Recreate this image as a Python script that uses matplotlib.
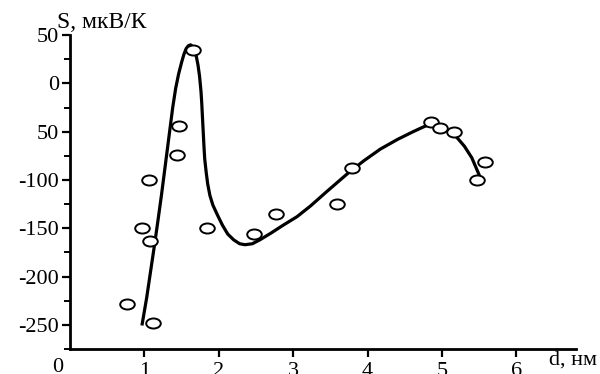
import numpy as np
import matplotlib.pyplot as plt
from matplotlib.path import Path
from matplotlib.transforms import Affine2D

# Экспериментальные точки
d_exp = [0.77, 0.97, 1.08, 1.06, 1.12, 1.44, 1.46, 1.65, 1.84, 2.47, 2.77,
         3.59, 3.79, 4.85, 4.97, 5.16, 5.47, 5.58]
s_exp = [-228, -150, -163, -100, -248, -74, -44, 35, -150, -156, -135,
         -125, -88, -40, -46, -50, -100, -81]

# Кривая
d_fit = [0.97, 1.03, 1.08, 1.13, 1.18, 1.23, 1.28, 1.33, 1.38, 1.42, 1.46,
         1.50, 1.53, 1.56, 1.59, 1.62, 1.65, 1.68, 1.70, 1.72, 1.74, 1.76,
         1.77, 1.78, 1.79, 1.80, 1.81, 1.83, 1.85, 1.88, 1.92, 1.98, 2.05,
         2.12, 2.20, 2.28, 2.35, 2.45, 2.55, 2.70, 2.86, 3.05, 3.23, 3.45,
         3.72, 3.95, 4.17, 4.40, 4.61, 4.75, 4.85, 4.92, 5.00, 5.10, 5.20,
         5.30, 5.40, 5.50]
s_fit = [-249, -222, -196, -170, -143, -115, -85, -55, -25, -5, 10,
         22, 30, 36, 39, 40, 38, 33, 27, 19, 8, -8,
         -20, -35, -50, -65, -78, -92, -104, -116, -126, -136, -147,
         -156, -162, -166, -167, -166, -162, -155, -147, -138, -127, -112,
         -94, -80, -68, -58, -50, -45, -42, -42, -45, -50, -56,
         -65, -77, -95]

yticks = [50, 0, -50, -100, -150, -200, -250]
ylabels = ['50', '0', '50', '-100', '-150', '-200', '-250']
xticks = [1, 2, 3, 4, 5, 6]

plt.rcParams['font.family'] = ['Liberation Serif', 'DejaVu Serif']
fs = 16

fig = plt.figure(figsize=(6, 3.74), dpi=100)
ax = fig.add_axes([0.1167, 0.0668, 0.8433, 0.8392])

ax.plot(d_fit, s_fit, color='black', lw=2.3, solid_joinstyle='round', zorder=2)

ellipse = Path.unit_circle().transformed(Affine2D().scale(1.45, 1.0))
ax.plot(d_exp, s_exp, linestyle='none', marker=ellipse, markersize=10.5,
        markerfacecolor='white', markeredgecolor='black', markeredgewidth=1.4,
        zorder=3)

ax.set_xlim(0, 6.8)
ax.set_ylim(-275, 50)

for side in ['top', 'right']:
    ax.spines[side].set_visible(False)
for side in ['left', 'bottom']:
    ax.spines[side].set_linewidth(2)

ax.set_yticks(yticks)
ax.set_yticklabels(ylabels)
ax.set_yticks(np.arange(-275, 50, 25), minor=True)
ax.set_xticks(xticks)
ax.tick_params(axis='both', which='major', direction='out', length=6, width=1.6,
               labelsize=fs)
ax.tick_params(axis='y', which='minor', direction='out', length=4, width=1.4)
ax.tick_params(axis='x', pad=3)
ax.tick_params(axis='y', pad=2)

fig.text(58 / 600, 1 - 358 / 374, '0', ha='center', va='top', fontsize=fs)
fig.text(57 / 600, 1 - 22 / 374, 'S, мкВ/К', ha='left', va='center', fontsize=17)
fig.text(597 / 600, 1 - 360 / 374, 'd, нм', ha='right', va='center', fontsize=fs)

fig.savefig('out.png', dpi=100)
